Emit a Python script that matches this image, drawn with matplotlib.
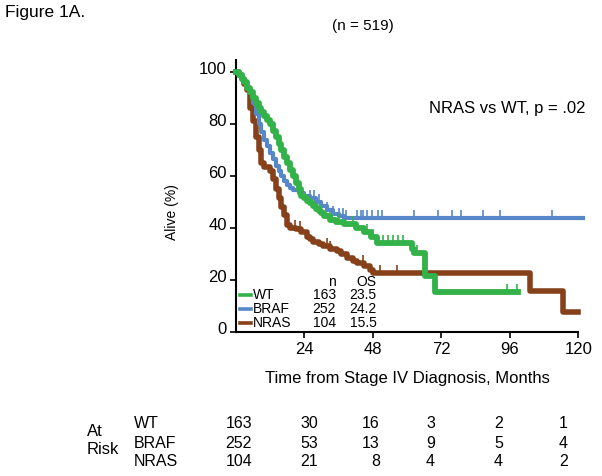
import numpy as np
import matplotlib
matplotlib.use('Agg')
import matplotlib.pyplot as plt
from matplotlib.path import Path
from matplotlib.transforms import ScaledTranslation, blended_transform_factory

plt.rcParams['font.family'] = ['Liberation Sans', 'DejaVu Sans']

# Kaplan-Meier steps (months, % alive)
wt_t = [0, 1, 2, 3, 4, 5, 6, 7, 8, 9, 10, 11, 12, 13, 14, 15, 16, 17, 18, 19, 20, 21, 22, 23,
        24, 25, 26, 27, 28, 29, 30, 31, 33, 35, 38, 42, 45, 47.5, 49.5, 61.7, 62.5, 66.3, 69.8, 99]
wt_s = [100, 99, 97.5, 96, 94, 92.5, 90, 88, 86, 84.5, 83, 81.5, 80, 77.5, 75, 72.5, 70, 67.5, 65, 62.5,
        60, 57.5, 55, 52.5, 51.5, 50.5, 49.5, 48.5, 47.5, 46.5, 45.8, 44.5, 43.2, 42.5, 41.5, 40, 38.5,
        36.6, 34.4, 32, 30.5, 21.5, 15.2, 15.2]

braf_t = [0, 1, 2, 3, 4, 5, 6, 7, 8, 9, 10, 11, 12, 13, 14, 15, 16, 17, 18, 19, 20, 22, 24, 26,
          28, 30, 32, 34, 36, 38, 121.5]
braf_s = [100, 99, 97.5, 96, 94, 92, 88, 84, 80, 77, 74, 71.5, 69, 66.5, 64, 62, 60, 58, 56.5, 55.5,
          54.5, 53.5, 52.5, 51.5, 50, 48.5, 47, 45.5, 44.8, 43.9, 43.9]

nras_t = [0, 1, 2, 3, 4, 5, 6, 7, 8, 9, 10, 12, 13, 14, 15, 16, 17, 18, 19, 21, 23, 25, 26, 27, 29,
          30.5, 33, 35.5, 37, 39, 41, 42.5, 45, 47, 48, 103, 114.5, 120]
nras_s = [100, 99, 97.5, 95.5, 93, 86, 81.3, 75, 70, 65, 63.5, 62, 59, 55, 51.5, 48, 45, 41, 40, 39.5,
          38.5, 36.7, 35.7, 34.7, 34, 33.2, 32, 31, 30, 28.6, 27.5, 26.5, 25.3, 24, 22.8, 15.7, 7.6, 7.6]

# censored times
wt_cens = [30, 33, 36, 41, 46, 48, 51.6, 53.3, 55, 56.8, 58.6, 62.5, 63.5, 95, 98.6]
braf_cens = [26, 27.5, 29, 32, 34, 36, 37.5, 38.6, 42.5, 44, 44.6, 46, 47.7, 49.8, 51.2,
             62.5, 70.9, 75.8, 79, 86.7, 92.6, 110.9]
nras_cens = [20.7, 22.5, 32, 33, 44.6, 50.5, 56.5]

groups = ['WT', 'BRAF', 'NRAS']
group_n = ['163', '252', '104']
group_os = ['23.5', '24.2', '15.5']
colors = ['#34b24a', '#5687c9', '#86401a']

risk_months = [0, 24, 48, 72, 96, 120]
at_risk = [[163, 30, 16, 3, 2, 1],
           [252, 53, 13, 9, 5, 4],
           [104, 21, 8, 4, 4, 2]]
risk_x = [5.7, 28.8, 50.5, 69.8, 93.6, 116.2]  # right edges of the columns

fig = plt.figure(figsize=(6.02, 4.76), dpi=100)
ax = fig.add_axes([0.3917, 0.3025, 0.5786, 0.5708])

tick_mark = Path([[0, 0], [0, 1]], [Path.MOVETO, Path.LINETO])

curves = [(wt_t, wt_s, wt_cens), (braf_t, braf_s, braf_cens), (nras_t, nras_s, nras_cens)]
widths = [4.2, 3.0, 4.0]
zords = [4, 3, 2]
for (t, s, cens), c, lw, z in zip(curves, colors, widths, zords):
    ax.step(t, s, where='post', color=c, lw=lw, clip_on=False, zorder=z)
    idx = np.searchsorted(t, cens, side='right') - 1
    lev = np.array(s)[idx]
    ax.plot(cens, lev, ls='none', marker=tick_mark, ms=11, mew=1.2, color=c, zorder=z)

ax.set_xlim(0, 122)
ax.set_ylim(0, 104.5)
ax.set_xticks([24, 48, 72, 96, 120])
ax.set_yticks([0, 20, 40, 60, 80, 100])
for side in ['top', 'right']:
    ax.spines[side].set_visible(False)
for side in ['left', 'bottom']:
    ax.spines[side].set_linewidth(1.5)
ax.spines['bottom'].set_bounds(0, 120)
ax.tick_params(direction='out', length=4.5, width=1.2, labelsize=12)
ax.tick_params(axis='y', pad=2)
ax.tick_params(axis='x', pad=3)
for lab in ax.get_yticklabels():
    lab.set_transform(lab.get_transform() + ScaledTranslation(0, 3 / 72, fig.dpi_scale_trans))

ax.set_xlabel('Time from Stage IV Diagnosis, Months', fontsize=12)
ax.xaxis.set_label_coords(0.492, -0.145)
fig.text(172 / 602, 1 - 212 / 476, 'Alive (%)', rotation=90, ha='center', va='center', fontsize=10)

# legend block inside the axes
ax.text(0.288, 0.183, 'n', transform=ax.transAxes, ha='right', va='center', fontsize=10)
ax.text(0.405, 0.183, 'OS', transform=ax.transAxes, ha='right', va='center', fontsize=10)
row_y = [0.136, 0.085, 0.034]
for g, n, os_, c, y in zip(groups, group_n, group_os, colors, row_y):
    ax.plot([0.012, 0.043], [y, y], transform=ax.transAxes, color=c, lw=2.6, clip_on=False)
    ax.text(0.048, y, g, transform=ax.transAxes, ha='left', va='center', fontsize=10)
    ax.text(0.288, y, n, transform=ax.transAxes, ha='right', va='center', fontsize=10)
    ax.text(0.405, y, os_, transform=ax.transAxes, ha='right', va='center', fontsize=10)

ax.text(0.556, 0.822, 'NRAS vs WT, p = .02', transform=ax.transAxes, ha='left', va='center', fontsize=12)

fig.text(5 / 602, 1 - 13 / 476, 'Figure 1A.', ha='left', va='center', fontsize=12.5)
fig.text(363 / 602, 1 - 26 / 476, '(n = 519)', ha='center', va='center', fontsize=11)

# number at risk table
fig.text(87 / 602, 1 - 432 / 476, 'At', ha='left', va='center', fontsize=12)
fig.text(87 / 602, 1 - 449 / 476, 'Risk', ha='left', va='center', fontsize=12)
tr = blended_transform_factory(ax.transData, fig.transFigure)
table_y = [1 - 423 / 476, 1 - 443 / 476, 1 - 462 / 476]
for g, row, y in zip(groups, at_risk, table_y):
    fig.text(134 / 602, y, g, ha='left', va='center', fontsize=11.5)
    for xpos, v in zip(risk_x, row):
        ax.text(xpos, y, str(v), transform=tr, ha='right', va='center', fontsize=11.5, clip_on=False)

fig.savefig('out.png', dpi=100)
